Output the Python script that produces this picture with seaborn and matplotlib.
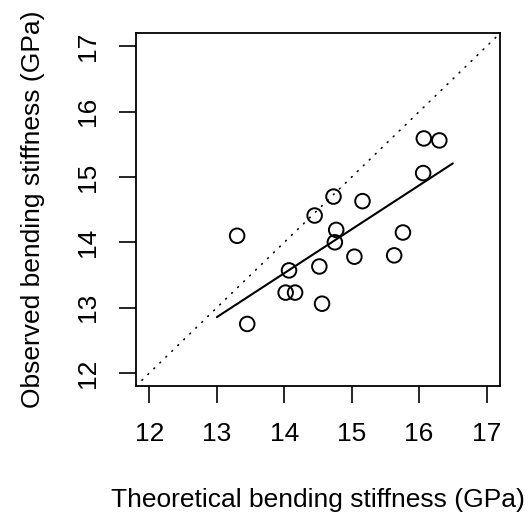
import matplotlib
matplotlib.use("Agg")
import matplotlib.pyplot as plt
import seaborn as sns
import numpy as np
import pandas as pd

# Data
theoretical = [13.30, 13.45, 14.02, 14.16, 14.07, 14.45, 14.52, 14.56, 14.73,
               14.77, 14.75, 15.04, 15.16, 15.63, 15.76, 16.06, 16.07, 16.30]
observed = [14.10, 12.75, 13.23, 13.23, 13.57, 14.41, 13.63, 13.06, 14.70,
            14.19, 14.00, 13.78, 14.63, 13.80, 14.15, 15.06, 15.59, 15.56]
fit_x = [13.0, 16.5]
fit_y = [12.855, 15.208]
ticks = [12, 13, 14, 15, 16, 17]

sns.set_theme(style="white")
plt.rcParams['font.family'] = ['Liberation Sans', 'DejaVu Sans']

df = pd.DataFrame({"theoretical": theoretical, "observed": observed})
fit = pd.DataFrame({"x": fit_x, "y": fit_y})

fig = plt.figure(figsize=(5.29, 5.16), dpi=100)
ax = fig.add_axes([136/529, 1-386/516, (500-136)/529, (386-33.3)/516])

ax.set_xlim(11.8, 17.2)
ax.set_ylim(11.8, 17.2)

ax.axline((12, 12), slope=1, color="black", lw=1.2, linestyle=(0, (0.5, 4.5)),
          dash_capstyle="round")
sns.lineplot(data=fit, x="x", y="y", ax=ax, color="black", lw=1.5)
sns.scatterplot(data=df, x="theoretical", y="observed", ax=ax, s=110,
                facecolor="none", edgecolor="black", linewidth=1.4, zorder=3)

ax.set_xticks(ticks)
ax.set_yticks(ticks)
ax.set_xticklabels([str(t) for t in ticks])
ax.set_yticklabels([str(t) for t in ticks], rotation=90, va="center")
ax.tick_params(axis="both", direction="out", length=12, width=1.2,
               color="black", labelsize=19, pad=14, labelcolor="black",
               bottom=True, left=True)
for s in ax.spines.values():
    s.set_visible(True)
    s.set_color("black")
    s.set_linewidth(1.3)

ax.set_xlabel("Theoretical bending stiffness (GPa)", fontsize=19, labelpad=30,
              color="black")
ax.set_ylabel("Observed bending stiffness (GPa)", fontsize=19, labelpad=22,
              color="black")

fig.savefig("out.png", dpi=100)
